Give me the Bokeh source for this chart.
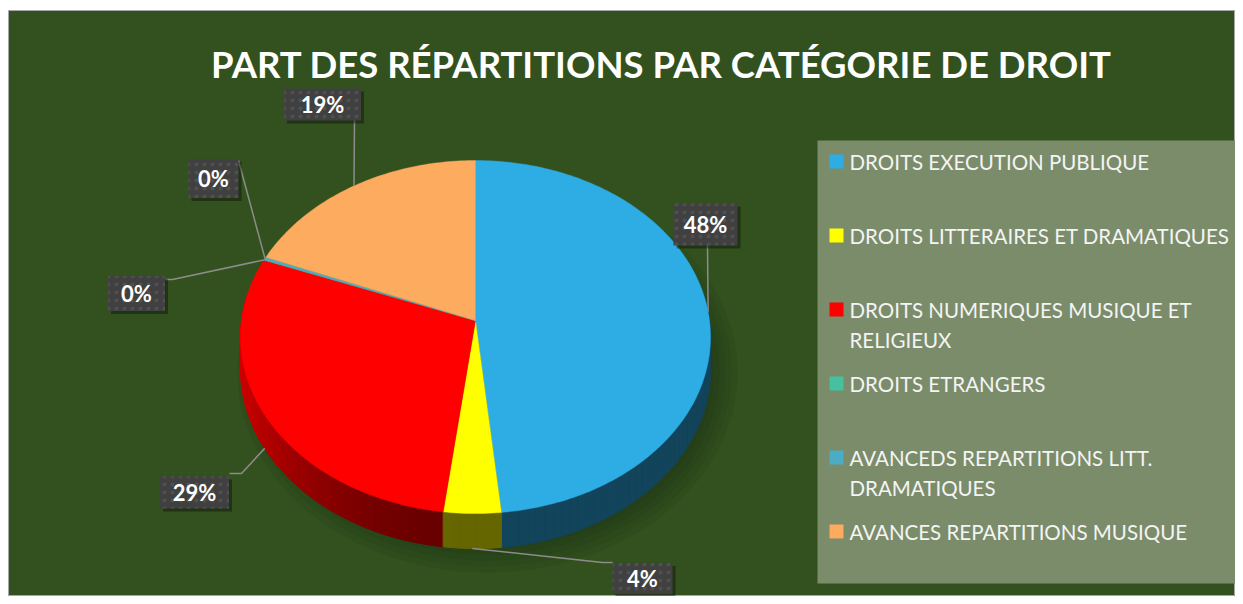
import textwrap
import numpy as np
from bokeh.plotting import figure
from bokeh.models import Range1d
from bokeh.core.properties import value
from bokeh.embed import file_html
from bokeh.resources import INLINE

# ---------------- data ----------------
title_text = "PART DES RÉPARTITIONS PAR CATÉGORIE DE DROIT"
categories = [
    "DROITS EXECUTION PUBLIQUE",
    "DROITS LITTERAIRES ET DRAMATIQUES",
    "DROITS NUMERIQUES MUSIQUE ET RELIGIEUX",
    "DROITS ETRANGERS",
    "AVANCEDS REPARTITIONS LITT. DRAMATIQUES",
    "AVANCES REPARTITIONS MUSIQUE",
]
shares = [48.4, 3.6, 28.8, 0.05, 0.25, 18.9]
colors = ["#2eace4", "#ffff00", "#ff0000", "#45c1a0", "#4bacc6", "#fcab5f"]

# ---------------- layout / style ----------------
BG = "#32511e"
FONT = value("Lato")
CX, CY = 475.0, 320.0       # projected pie centre (px)
BX, AY = 234.0, 175.0       # horizontal / vertical radii
KP = 0.0935                 # perspective factor
DEPTH = 31.7                # side depth

# label boxes: centre x, centre y, w, h ; leader path after anchor
label_boxes = [
    (705, 224, 64, 42, [(707, 245)]),
    (642, 578, 60, 31, [(602, 562), (612, 562)]),
    (194, 492, 69, 32, [(241, 473), (229, 473)]),
    (136, 293, 57, 35, [(172, 279), (165, 279)]),
    (213, 178, 50, 39, [(238, 160)]),
    (322, 104, 77, 32, [(354, 120)]),
]

W, H = 1235, 596
p = figure(width=W, height=H, x_range=Range1d(8, W), y_range=Range1d(H, 10),
           output_backend="svg", toolbar_location=None,
           min_border_left=8, min_border_right=0, min_border_bottom=0, min_border_top=10)
p.axis.visible = False
p.grid.visible = False
p.background_fill_color = BG
p.border_fill_color = "white"
p.outline_line_color = "#a6a6a6"
p.outline_line_width = 1


def proj(theta):
    u = np.sin(theta)
    v = np.cos(theta)
    s = 1.0 / (1.0 + KP * v)
    return CX + BX * u * s, CY - AY * v * s, DEPTH * s, v


def shade(hexcol, f):
    h = hexcol.lstrip("#")
    r, g, b = (int(h[i:i + 2], 16) for i in (0, 2, 4))
    return "#%02x%02x%02x" % (int(r * f), int(g * f), int(b * f))


# soft shadow under pie
for i in range(6):
    p.ellipse(x=CX + 12, y=CY + 52, width=500 - i * 12, height=400 - i * 12,
              fill_color="#15220b", fill_alpha=0.07, line_color=None)

total = float(sum(shares))
bounds = np.concatenate([[0.0], np.cumsum(shares) / total]) * 2 * np.pi

# sides
side_quads = []
for k in range(len(shares)):
    t0, t1 = bounds[k], bounds[k + 1]
    n = max(1, int(np.ceil(np.degrees(t1 - t0) / 2.0)))
    ts = np.linspace(t0, t1, n + 1)
    for j in range(n):
        a, b = ts[j], ts[j + 1]
        xa, ya, da, va = proj(a)
        xb, yb, db, vb = proj(b)
        vm = np.cos((a + b) / 2)
        if vm > 0.15:
            continue
        tm = np.degrees((a + b) / 2) % 360
        if 180 <= tm <= 270:
            f = 0.40 + 0.42 * np.sin(np.radians(tm - 180)) ** 2
        elif tm > 270:
            f = 0.82
        else:
            f = 0.40
        c = shade(colors[k], f)
        side_quads.append((vm, [xa, xb, xb, xa], [ya, yb, yb + db, ya + da], c))
side_quads.sort(key=lambda q: -q[0])
p.patches(xs=[q[1] for q in side_quads], ys=[q[2] for q in side_quads],
          fill_color=[q[3] for q in side_quads], line_color=[q[3] for q in side_quads],
          line_width=1.0)

# top faces
txs, tys = [], []
for k in range(len(shares)):
    t0, t1 = bounds[k], bounds[k + 1]
    n = max(2, int(np.ceil(np.degrees(t1 - t0))) + 1)
    ts = np.linspace(t0, t1, n)
    x, y, _, _ = proj(ts)
    txs.append([CX] + list(x))
    tys.append([CY] + list(y))
p.patches(xs=txs, ys=tys, fill_color=colors, line_color=colors, line_width=0.4)

# leader lines + data labels
lxs, lys = [], []
for k in range(len(shares)):
    tm = (bounds[k] + bounds[k + 1]) / 2
    ax, ay, d, v = proj(tm)
    if v < 0:
        ay = ay + d
    path = [(ax, ay)] + label_boxes[k][4]
    lxs.append([pt[0] for pt in path])
    lys.append([pt[1] for pt in path])
p.multi_line(xs=lxs, ys=lys, line_color="#8c8c8c", line_width=1.5)

bx = [b[0] for b in label_boxes]
by = [b[1] for b in label_boxes]
bw = [b[2] for b in label_boxes]
bh = [b[3] for b in label_boxes]
p.rect(x=[v + 3 for v in bx], y=[v + 3 for v in by], width=bw, height=bh,
       fill_color="black", fill_alpha=0.35, line_color=None)
p.rect(x=bx, y=by, width=bw, height=bh, fill_color="#404040", line_color=None,
       hatch_pattern="dot", hatch_color="#5e5e5e", hatch_scale=8, hatch_alpha=0.5)
pct = ["%d%%" % round(s / total * 100) for s in shares]
p.text(x=bx, y=by, text=pct, text_font=FONT, text_font_style="bold",
       text_font_size="22px", text_color="white", text_align="center",
       text_baseline="middle")

# title
p.text(x=[661], y=[63], text=[title_text], text_font=FONT, text_font_style="bold",
       text_font_size="36.5px", text_color="white", text_align="center",
       text_baseline="middle")

# legend
p.rect(x=[1028.5], y=[361.5], width=423, height=443, fill_color="#7b8c6a",
       line_color=None)
row_y = [161 + 74 * i for i in range(len(categories))]
p.rect(x=[836] * len(categories), y=row_y, width=14, height=14,
       fill_color=colors, line_color=None)
lx, ly, lt = [], [], []
for k, cat in enumerate(categories):
    for j, line in enumerate(textwrap.wrap(cat, 33)):
        lx.append(849)
        ly.append(row_y[k] + 30 * j)
        lt.append(line)
p.text(x=lx, y=ly, text=lt, text_font=FONT, text_font_size="20.5px",
       text_color="#f4f4f4", text_align="left", text_baseline="middle")

open("out.html", "w").write(file_html(p, INLINE))
